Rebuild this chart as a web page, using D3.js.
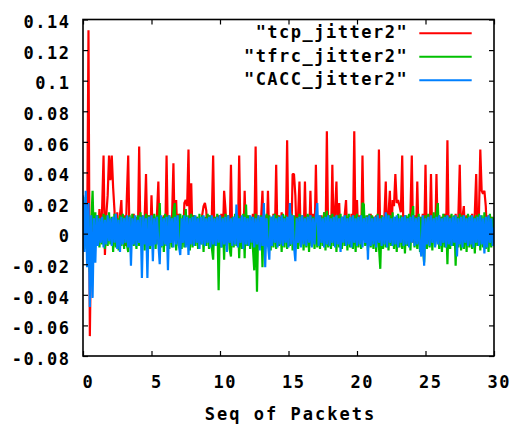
<!DOCTYPE html>
<html>
<head>
<meta charset="utf-8">
<script src="https://cdn.jsdelivr.net/npm/d3@7"></script>
<style>
  body { margin: 0; background: #fff; }
</style>
</head>
<body>
<svg id="chart" width="513" height="426"></svg>
<script>
// Packet sequence (x) starts at 0 and advances 0.1 per sample.
const seqStart = 0, seqStep = 0.1;

// Jitter per sample (seconds), one row per unit of sequence.
const tcpJitter = [
  .012, -.004, .018, -.006, .133, -.067, .004, -.008, .010, -.005,
  .012, -.006, .016, -.004, .018, .051, -.014, .012, .025, .051,
  .035, .051, .030, .015, -.008, .014, -.010, .012, .022, -.006,
  .012, -.008, .024, .051, -.006, .010, -.004, .013, -.007, .011,
  -.005, .057, -.006, .012, -.004, .010, .039, -.005, .012, -.006,
  .025, -.004, .011, -.006, .013, .034, -.005, .010, -.007, .012,
  -.004, .051, -.006, .012, -.005, .011, .046, -.004, .022, -.006,
  .013, -.005, .010, -.006, .020, .022, .018, .055, -.004, .033,
  -.006, .012, -.004, .011, -.007, .010, -.005, .012, .018, .020,
  .015, -.005, .012, -.006, .010, .051, -.004, .011, -.006, .012,
  -.005, .013, -.006, .028, .016, -.005, .012, -.004, .045, -.006,
  .011, -.005, .012, -.006, .051, -.004, .010, -.007, .028, -.005,
  .012, -.004, .011, -.006, .013, -.005, .057, -.004, .012, -.006,
  .010, .028, -.005, .012, -.006, .028, -.004, .011, -.007, .013,
  -.005, .045, -.006, .012, -.004, .014, -.006, .011, -.005, .061,
  -.004, .012, -.006, .039, .039, .025, -.005, .012, .034, -.006,
  .011, -.004, .034, -.005, .012, -.006, .028, -.004, .013, -.006,
  .045, -.005, .011, -.006, .012, -.004, .014, -.007, .067, -.005,
  .012, -.006, .045, -.004, .015, .034, -.005, .020, -.006, .011,
  -.004, .012, .022, -.006, .011, -.005, .013, -.004, .067, -.006,
  .022, -.005, .012, -.006, .051, -.004, .011, -.007, .012, -.005,
  .013, -.006, .011, -.004, .012, -.006, .055, -.005, .012, -.004,
  .011, .034, -.006, .013, .028, -.005, .022, .018, .039, .020,
  .022, .018, .014, .051, -.005, .012, -.006, .011, -.004, .013,
  .051, -.006, .012, -.005, .034, -.004, .011, -.006, .013, -.005,
  .045, -.006, .012, -.004, .039, -.005, .011, -.006, .039, -.004,
  .012, -.006, .011, -.005, .013, -.004, .061, -.006, .012, -.005,
  .011, -.004, .013, -.006, .012, .045, -.005, .011, .018, -.006,
  .012, -.004, .011, -.006, .013, -.005, .014, .039, -.006, .012,
  .055, .028, .026, .028, .018, -.005, .012, -.006, .011, -.004,
  .010
];

const tfrcJitter = [
  .020, -.010, .024, -.006, .012, -.025, .006, .028, -.008, .014,
  -.006, .012, -.009, .010, -.007, .013, -.010, .012, -.008, .014,
  -.007, .011, -.012, .013, -.009, .010, -.011, .012, -.008, .013,
  -.010, .011, -.007, -.012, .012, -.009, .013, -.008, .011, -.010,
  .012, -.008, .014, -.009, .011, -.011, .013, -.007, .012, -.010,
  .011, -.008, .013, -.010, .012, -.007, .020, -.009, .011, -.012,
  .013, -.008, .012, -.010, .011, -.009, .014, .020, -.011, .012,
  -.008, .013, -.010, .012, -.009, .016, -.007, .012, -.011, .013,
  -.009, .012, -.008, .011, -.010, .013, -.007, .012, -.012, .011,
  -.008, .013, -.010, .012, -.009, -.017, .011, -.008, .013, -.037,
  .012, -.009, .011, -.017, .013, -.008, .012, -.010, -.015, .011,
  -.009, .013, -.008, .012, -.016, .011, -.010, .013, -.016, .019,
  -.008, .012, -.010, .011, -.009, -.024, .013, -.038, .011, -.009,
  .012, -.022, .011, -.010, .013, -.008, .012, -.011, .011, -.009,
  .013, -.010, .012, -.008, .011, -.012, .013, -.009, .012, -.010,
  .011, -.008, .013, -.011, .012, -.009, .011, -.010, .013, -.008,
  .012, -.011, .011, -.009, .013, -.012, .012, -.008, .011, -.010,
  .013, -.009, .012, -.010, .011, -.008, .014, -.011, .015, -.009,
  .012, -.010, .013, -.008, .011, -.012, .012, -.009, .013, -.010,
  .011, -.008, .012, -.011, .013, -.009, .011, -.010, .012, -.012,
  .013, -.009, .011, -.010, .020, .019, -.008, .012, -.011, .013,
  -.009, .012, -.010, .011, -.012, .013, -.008, -.023, .012, -.010,
  .011, -.009, .013, -.011, .012, -.008, .014, -.010, .011, -.012,
  .013, -.009, .012, -.010, .011, -.013, .012, -.008, .013, -.011,
  .012, .018, -.009, .011, -.010, .013, -.012, .011, -.008, -.019,
  .012, -.010, .013, -.009, .011, -.011, .014, -.008, .012, .020,
  -.010, .011, -.012, .013, -.009, .012, -.020, .011, -.010, .013,
  -.008, .012, -.021, .011, -.009, .013, -.011, .012, -.010, .011,
  -.012, .013, -.009, .012, -.010, .011, -.013, .012, -.008, .013,
  -.011, .012, -.009, .014, -.010, .011, -.012, .013, -.009, .011,
  -.006
];

const caccJitter = [
  .025, -.012, .028, -.022, .020, -.048, .012, -.042, .010, -.019,
  .012, -.008, .010, -.006, .011, -.009, .009, -.007, .012, -.005,
  .010, -.008, .011, -.006, .013, -.010, .009, -.012, .011, -.007,
  .010, -.006, .012, -.009, .011, -.021, .010, -.007, .012, -.008,
  .009, -.006, .011, -.029, .012, -.007, .010, -.029, .011, -.008,
  .012, -.018, .010, -.007, .011, -.006, -.020, .012, -.008, .010,
  -.007, .011, -.024, .012, -.006, .010, -.009, .011, -.007, .012,
  -.008, -.014, .010, -.006, .012, -.009, .011, -.014, .010, -.007,
  .011, -.008, .012, -.006, .010, -.010, .011, -.007, .012, -.008,
  .010, -.006, .011, -.009, .012, -.007, .010, -.008, .011, -.006,
  .012, -.009, .010, -.007, .011, -.012, .012, -.006, .010, -.008,
  .011, -.007, .019, -.009, .010, -.006, .012, -.010, .011, -.007,
  .010, -.008, .012, -.006, .011, -.009, .010, -.007, .012, -.011,
  .011, -.008, .020, -.022, .010, -.007, -.017, .011, -.008, .012,
  -.006, .010, -.009, .011, -.007, .012, -.008, .010, -.006, .011,
  -.009, .020, -.007, .012, -.008, -.018, .010, -.006, .011, -.009,
  .012, -.007, .010, -.008, .011, -.006, .012, -.009, .010, -.007,
  .011, .020, -.008, .012, -.006, .010, -.009, .011, -.007, .012,
  -.008, .010, -.006, .011, -.009, .012, -.007, .010, -.012, .011,
  -.006, .012, -.008, .010, -.007, .011, -.009, .012, -.006, .010,
  -.008, .011, -.007, .012, -.009, .010, -.006, .011, -.017, .012,
  -.008, .010, -.007, .011, -.009, .012, -.006, .010, -.008, .011,
  -.007, .014, -.009, .012, -.006, .010, -.008, .011, -.007, .012,
  -.009, .010, -.006, .011, -.008, .012, -.007, .010, -.009, .011,
  -.006, .012, -.008, .010, -.007, .011, -.009, -.015, .012, -.021,
  .010, -.007, .011, -.008, .012, -.006, .010, -.009, .011, -.007,
  .012, -.008, .010, -.006, .011, -.009, .012, -.007, .010, -.008,
  .011, -.006, .012, -.015, .010, -.007, .011, -.009, .012, -.006,
  .010, -.008, .011, -.007, .012, -.009, .010, -.006, .011, -.008,
  .012, -.007, .010, -.013, .011, -.009, .012, -.006, .010, -.008,
  .004
];

const seriesNames = ['"tcp_jitter2"', '"tfrc_jitter2"', '"CACC_jitter2"'];
const seriesColors = ["#ff0000", "#00c000", "#0080ff"];
const seriesData = [tcpJitter, tfrcJitter, caccJitter];

const xTicks = [0, 5, 10, 15, 20, 25, 30];
const yTicks = [-0.08, -0.06, -0.04, -0.02, 0, 0.02, 0.04, 0.06, 0.08, 0.1, 0.12, 0.14];
const yTickLabels = ["-0.08", "-0.06", "-0.04", "-0.02", "0", "0.02", "0.04", "0.06", "0.08", "0.1", "0.12", "0.14"];
const xTitle = "Seq of Packets";

const svg = d3.select("#chart");
const box = { left: 83, right: 494, top: 19.5, bottom: 356 };
const font = "'DejaVu Sans Mono', 'Liberation Mono', monospace";
const fontSize = 17;
const ls = 1.5; // letter spacing of the blocky tick font

const x = d3.scaleLinear().domain([0, 30]).range([box.left, box.right]);
const y = d3.scaleLinear().domain([-0.08, 0.14]).range([box.bottom, box.top]);

svg.append("rect").attr("width", 513).attr("height", 426).attr("fill", "#fff");

svg.append("clipPath").attr("id", "plotClip")
  .append("rect")
  .attr("x", box.left).attr("y", box.top)
  .attr("width", box.right - box.left).attr("height", box.bottom - box.top);

const line = d3.line()
  .x((d, i) => x(seqStart + i * seqStep))
  .y(d => y(d));

const traces = svg.append("g").attr("clip-path", "url(#plotClip)");
seriesData.forEach((vals, k) => {
  traces.append("path")
    .datum(vals)
    .attr("d", line)
    .attr("fill", "none")
    .attr("stroke", seriesColors[k])
    .attr("stroke-width", 2.2)
    .attr("stroke-linejoin", "bevel");
});

function styleText(g) {
  g.attr("font-family", font).attr("font-size", fontSize).attr("font-weight", "bold");
  g.selectAll("text").attr("fill", "#000").style("letter-spacing", ls + "px");
  g.selectAll("line").attr("stroke", "#000").attr("stroke-width", 1.2);
  g.select(".domain").remove();
}

// left axis with labels, ticks pointing inward
svg.append("g")
  .attr("transform", `translate(${box.left},0)`)
  .call(d3.axisLeft(y).tickValues(yTicks).tickFormat((d, i) => yTickLabels[i]).tickSize(-5).tickPadding(14 - ls))
  .call(styleText)
  .call(g => g.selectAll("text").attr("dy", null).attr("y", 8.3));

// right axis, ticks only
svg.append("g")
  .attr("transform", `translate(${box.right},0)`)
  .call(d3.axisRight(y).tickValues(yTicks).tickFormat("").tickSize(-5))
  .call(styleText);

// bottom axis with labels
svg.append("g")
  .attr("transform", `translate(0,${box.bottom})`)
  .call(d3.axisBottom(x).tickValues(xTicks).tickFormat(d3.format("d")).tickSize(-5))
  .call(styleText)
  .call(g => g.selectAll("text").attr("dy", null).attr("y", 31.5).attr("x", 4 + ls / 2));

// top axis, ticks only
svg.append("g")
  .attr("transform", `translate(0,${box.top})`)
  .call(d3.axisTop(x).tickValues(xTicks).tickFormat("").tickSize(-5))
  .call(styleText);

// frame
svg.append("rect")
  .attr("x", box.left).attr("y", box.top)
  .attr("width", box.right - box.left).attr("height", box.bottom - box.top)
  .attr("fill", "none").attr("stroke", "#000").attr("stroke-width", 1.6);

// axis title
svg.append("text")
  .attr("x", (box.left + box.right) / 2 + 1 + 1)
  .attr("y", 420)
  .attr("text-anchor", "middle")
  .attr("font-family", font).attr("font-size", fontSize).attr("font-weight", "bold")
  .style("letter-spacing", "2px")
  .text(xTitle);

// legend
const legend = svg.append("g");
seriesNames.forEach((name, k) => {
  const ly = 33.3 + k * 23.5;
  legend.append("text")
    .attr("x", 406.7 + ls)
    .attr("y", ly + 4.8)
    .attr("text-anchor", "end")
    .attr("font-family", font).attr("font-size", fontSize).attr("font-weight", "bold")
    .style("letter-spacing", ls + "px")
    .text(name);
  legend.append("line")
    .attr("x1", 419.3).attr("x2", 471.7)
    .attr("y1", ly).attr("y2", ly)
    .attr("stroke", seriesColors[k]).attr("stroke-width", 2);
});
</script>
</body>
</html>
